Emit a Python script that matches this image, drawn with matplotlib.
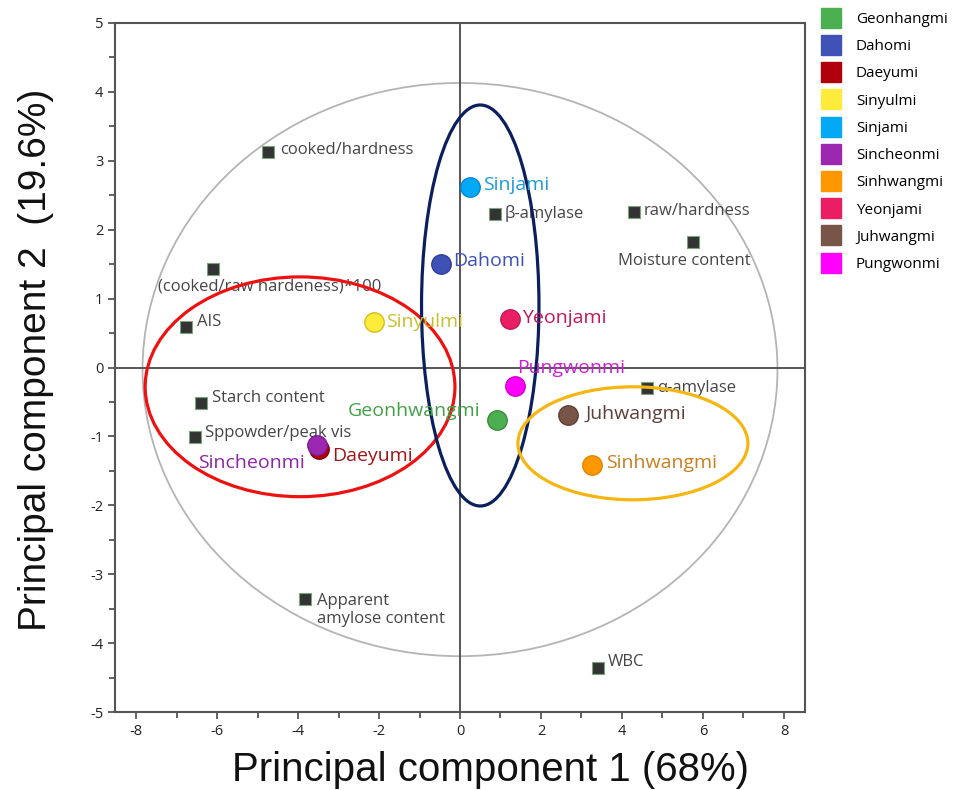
import matplotlib
matplotlib.use("Agg")
import matplotlib.pyplot as plt
from matplotlib.patches import Ellipse
from matplotlib.lines import Line2D
from matplotlib.ticker import MultipleLocator

plt.rcParams['font.family'] = ['Open Sans', 'DejaVu Sans']
plt.rcParams['axes.unicode_minus'] = False

# ---- data ----
varieties = ["Geonhwangmi", "Dahomi", "Daeyumi", "Sinyulmi", "Sinjami",
             "Sincheonmi", "Sinhwangmi", "Yeonjami", "Juhwangmi", "Pungwonmi"]
legend_names = ["Geonhangmi", "Dahomi", "Daeyumi", "Sinyulmi", "Sinjami",
                "Sincheonmi", "Sinhwangmi", "Yeonjami", "Juhwangmi", "Pungwonmi"]
var_pc1 = [0.91, -0.47, -3.48, -2.12, 0.25, -3.53, 3.26, 1.23, 2.67, 1.36]
var_pc2 = [-0.76, 1.50, -1.18, 0.66, 2.62, -1.12, -1.42, 0.70, -0.69, -0.27]

variables = ["cooked/hardness", "β-amylase", "raw/hardness", "Moisture content",
             "(cooked/raw hardeness)*100", "AIS", "Starch content",
             "Sppowder/peak vis", "α-amylase", "Apparent\namylose content", "WBC"]
load_pc1 = [-4.74, 0.86, 4.30, 5.75, -6.10, -6.77, -6.40, -6.54, 4.62, -3.83, 3.41]
load_pc2 = [3.13, 2.23, 2.26, 1.82, 1.43, 0.59, -0.52, -1.01, -0.30, -3.36, -4.36]

x_ticks = [-8, -6, -4, -2, 0, 2, 4, 6, 8]
y_ticks = [-5, -4, -3, -2, -1, 0, 1, 2, 3, 4, 5]

# ---- styles ----
fill_colors = ["#4CAF50", "#3F51B5", "#B0000C", "#FFEB3B", "#03A9F4",
               "#9C27B0", "#FF9800", "#E91E63", "#795548", "#FF00FF"]
text_colors = ["#43A047", "#3F51B5", "#A01515", "#C9BE2E", "#1E9BD7",
               "#8E24AA", "#C97F1E", "#C2185B", "#5D4037", "#CF1FD6"]
edge_colors = ["#3d8b40", "#303f9f", "#8a0008", "#d4c021", "#0288d1",
               "#7b1fa2", "#e08600", "#c2185b", "#5d4037", "#d000d0"]
# label offsets in points (dx, dy) and horizontal alignment
px = 0.72
var_off = [(-16, 9, 'right'), (12, 3, 'left'), (13, -7, 'left'), (12, 0, 'left'),
           (13, 2, 'left'), (-12, -18, 'right'), (14, 2, 'left'), (12, 1, 'left'),
           (17, 1, 'left'), (2, 18, 'left')]
load_off = [(12, 2, 'left'), (10, 0, 'left'), (10, 1, 'left'), (-9, -19, 'center'),
            (-55, -18, 'left'), (11, 5, 'left'), (11, 5, 'left'), (10, 4, 'left'),
            (10, 0, 'left'), (12, -11, 'left'), (10, 6, 'left')]

fig = plt.figure(figsize=(9.71, 7.90), dpi=100)
ax = fig.add_axes([115/971, 1-712/790, (805-115)/971, (712-23)/790])
ax.set_xlim(-8.52, 8.52)
ax.set_ylim(-5, 5)

# correlation circle
ax.add_patch(Ellipse((0, -0.03), 2*7.84, 2*4.16, fill=False, ec="#b4b4b4", lw=1.3, zorder=1))
ax.axhline(0, color="#555555", lw=1.4, zorder=1)
ax.axvline(0, color="#555555", lw=1.4, zorder=1)

# loadings
ax.plot(load_pc1, load_pc2, ls='', marker='s', ms=9, mfc="#333333", mec="#7aa57a",
        mew=0.8, zorder=3)
for name, x, y, (dx, dy, ha) in zip(variables, load_pc1, load_pc2, load_off):
    ax.annotate(name, (x, y), xytext=(dx*px, dy*px), textcoords='offset points',
                ha=ha, va='center', fontsize=12, color="#454545", zorder=3,
                linespacing=1.1)

# group ellipses
ax.add_patch(Ellipse((-3.95, -0.28), 7.65, 3.19, fill=False, ec="#EE1111", lw=2.3, zorder=5))
ax.add_patch(Ellipse((0.50, 0.90), 2.9, 5.82, fill=False, ec="#0B1F5E", lw=2.3, zorder=5))
ax.add_patch(Ellipse((4.27, -1.10), 5.68, 1.64, fill=False, ec="#F7B512", lw=2.3, zorder=5))

# varieties
for name, x, y, fc, ec, tc, (dx, dy, ha) in zip(varieties, var_pc1, var_pc2, fill_colors,
                                                 edge_colors, text_colors, var_off):
    ax.plot([x], [y], ls='', marker='o', ms=14, mfc=fc, mec=ec, mew=1.0, zorder=6)
    ax.annotate(name, (x, y), xytext=(dx*px, dy*px), textcoords='offset points',
                ha=ha, va='center', fontsize=14, color=tc, zorder=6)

# axes styling
ax.set_xticks(x_ticks)
ax.set_yticks(y_ticks)
ax.xaxis.set_minor_locator(MultipleLocator(1))
ax.yaxis.set_minor_locator(MultipleLocator(0.5))
ax.tick_params(which='both', direction='out', color="#555555", width=1.3,
               labelsize=10.5, labelcolor="#222222")
ax.tick_params(which='major', length=5)
ax.tick_params(which='minor', length=4)
for sp in ax.spines.values():
    sp.set_color("#555555")
    sp.set_linewidth(1.5)

fig.text(490/971, 1-770/790, "Principal component 1 (68%)", ha='center', va='center',
         fontsize=29, family='Liberation Sans', color="#111111")
fig.text(36/971, 1-360/790, "Principal component 2  (19.6%)", ha='center', va='center',
         rotation=90, fontsize=28, family='Liberation Sans', color="#111111")

# legend
handles = [Line2D([], [], ls='', marker='s', ms=14, mfc=c, mec=c) for c in fill_colors]
fig.legend(handles, legend_names, loc='upper left', bbox_to_anchor=(820/971, 1-12/790),
           frameon=False, fontsize=11, handlelength=1.5, handletextpad=0.85,
           labelspacing=0.8, borderaxespad=0, borderpad=0)

fig.savefig("out.png", dpi=100)
